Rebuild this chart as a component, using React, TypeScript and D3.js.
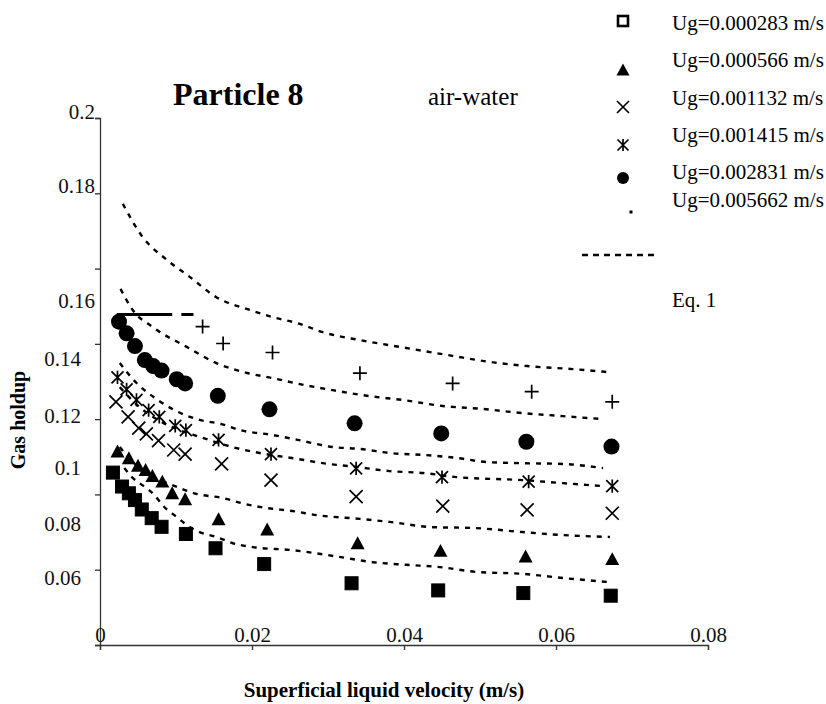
import { useEffect, useRef } from 'react';
import * as d3 from 'd3';

// axis ticks
const xTicks = [0, 0.02, 0.04, 0.06, 0.08];
const yTicks = [0.06, 0.08, 0.1, 0.12, 0.14, 0.16, 0.18, 0.2];

// legend labels
const ugLabels = [
  'Ug=0.000283 m/s',
  'Ug=0.000566 m/s',
  'Ug=0.001132 m/s',
  'Ug=0.001415 m/s',
  'Ug=0.002831 m/s',
  'Ug=0.005662 m/s',
];

// measured data (superficial liquid velocity, gas holdup)
const sqX = [0.0017, 0.0029, 0.0038, 0.0046, 0.0055, 0.0068, 0.0081, 0.0113, 0.0152, 0.0216, 0.0331, 0.0445, 0.0557, 0.0672];
const sqY = [0.1058, 0.1021, 0.1003, 0.0985, 0.096, 0.0937, 0.0914, 0.0895, 0.0857, 0.0815, 0.0764, 0.0745, 0.0738, 0.0731];

const triX = [0.0023, 0.0038, 0.005, 0.006, 0.0069, 0.0082, 0.0095, 0.0112, 0.0156, 0.022, 0.0339, 0.0448, 0.056, 0.0674];
const triY = [0.1114, 0.1096, 0.1076, 0.1065, 0.1049, 0.1034, 0.1003, 0.0987, 0.0934, 0.0907, 0.087, 0.085, 0.0835, 0.0828];

const crossX = [0.0021, 0.0037, 0.0051, 0.0061, 0.0077, 0.0097, 0.0112, 0.016, 0.0225, 0.0337, 0.0451, 0.0562, 0.0674];
const crossY = [0.1246, 0.1206, 0.1176, 0.1161, 0.1143, 0.1118, 0.1107, 0.1081, 0.1038, 0.0994, 0.0969, 0.0959, 0.095];

const starX = [0.0023, 0.0035, 0.0048, 0.0064, 0.0078, 0.0099, 0.0113, 0.0156, 0.0225, 0.0337, 0.045, 0.0564, 0.0674];
const starY = [0.1311, 0.1279, 0.1251, 0.1224, 0.1206, 0.1182, 0.1171, 0.1145, 0.1107, 0.1069, 0.1046, 0.1034, 0.1022];

const dotX = [0.0025, 0.0035, 0.0046, 0.0059, 0.007, 0.0081, 0.0101, 0.0112, 0.0155, 0.0223, 0.0335, 0.0449, 0.0561, 0.0673];
const dotY = [0.1459, 0.1428, 0.1394, 0.1357, 0.1341, 0.1329, 0.1306, 0.1295, 0.1262, 0.1226, 0.1189, 0.1162, 0.114, 0.1127];

const plusX = [0.0135, 0.0162, 0.0227, 0.0342, 0.0464, 0.0568, 0.0674];
const plusY = [0.1446, 0.1401, 0.1377, 0.1322, 0.1295, 0.1273, 0.1246];

// flat black bar near the top-left of the plot
const barY = 0.1478;
const barSegments = [[0.0022, 0.0095], [0.0107, 0.0123]];

// Eq. 1 curves
const eqAX = [0.003, 0.0056, 0.0088, 0.0118, 0.0153, 0.0197, 0.0227, 0.0263, 0.0293, 0.0342, 0.0394, 0.0464, 0.0513, 0.0562, 0.0622, 0.0668];
const eqAY = [0.1772, 0.1684, 0.1623, 0.1578, 0.1524, 0.149, 0.1471, 0.1453, 0.1431, 0.141, 0.1392, 0.1368, 0.1352, 0.1341, 0.1333, 0.1325];

const eqBX = [0.0027, 0.0043, 0.0069, 0.0114, 0.0153, 0.0193, 0.0227, 0.0263, 0.0306, 0.0355, 0.0398, 0.0451, 0.0504, 0.0556, 0.0609, 0.0662];
const eqBY = [0.1546, 0.149, 0.1445, 0.1392, 0.1349, 0.1323, 0.1309, 0.1293, 0.1277, 0.1261, 0.1251, 0.1235, 0.1227, 0.1216, 0.1208, 0.12];

const eqCX = [0.0026, 0.0048, 0.0076, 0.0098, 0.0131, 0.016, 0.0184, 0.0227, 0.026, 0.0306, 0.0342, 0.0381, 0.0425, 0.0469, 0.0509, 0.0556, 0.0609, 0.0662];
const eqCY = [0.1349, 0.1296, 0.1251, 0.1224, 0.1198, 0.1187, 0.1171, 0.1158, 0.1145, 0.1126, 0.1121, 0.111, 0.1105, 0.1097, 0.1086, 0.1083, 0.1081, 0.107];

const eqDX = [0.0026, 0.0052, 0.0072, 0.0098, 0.0131, 0.0174, 0.021, 0.0261, 0.0293, 0.0338, 0.0381, 0.0425, 0.0469, 0.0556, 0.0609, 0.0662];
const eqDY = [0.1285, 0.1232, 0.1203, 0.1176, 0.1153, 0.1126, 0.111, 0.1094, 0.1083, 0.1073, 0.1062, 0.1057, 0.1046, 0.1038, 0.103, 0.1022];

const eqEX = [0.0026, 0.0043, 0.0065, 0.0095, 0.0128, 0.016, 0.019, 0.0219, 0.0253, 0.0285, 0.0342, 0.0381, 0.0438, 0.049, 0.0556, 0.0609, 0.0671];
const eqEY = [0.1126, 0.1086, 0.1052, 0.1025, 0.1001, 0.0991, 0.0975, 0.0964, 0.0956, 0.0945, 0.0935, 0.0927, 0.0913, 0.0911, 0.09, 0.0892, 0.0887];

const eqFX = [0.0032, 0.0042, 0.0059, 0.0072, 0.0082, 0.0101, 0.0114, 0.0131, 0.0153, 0.0174, 0.0201, 0.0253, 0.0315, 0.0359, 0.0403, 0.0447, 0.0496, 0.0556, 0.0609, 0.0671];
const eqFY = [0.107, 0.1046, 0.102, 0.0998, 0.0972, 0.094, 0.0919, 0.09, 0.0887, 0.0871, 0.086, 0.0852, 0.0834, 0.082, 0.0813, 0.0807, 0.0794, 0.0789, 0.0778, 0.0767];

type Shape = 'square' | 'triangle' | 'x' | 'star' | 'circle' | 'plus' | 'dot';

const FONT = "'Liberation Serif', 'Times New Roman', serif";

// where the scanned y tick labels actually sit relative to their ticks
const yLabelNudge: Record<string, [number, number]> = {
  '0.2': [-5, -6],
  '0.18': [-5, -8],
  '0.16': [-5, 32],
  '0.14': [-19, 15],
  '0.12': [-19, -4],
  '0.1': [-19, -27],
  '0.08': [-19, -46],
  '0.06': [-19, -67],
};

const fmt = (d: number) => String(+d.toFixed(2));

function drawMarker(
  g: d3.Selection<SVGGElement, unknown, null, undefined>,
  shape: Shape,
  cx: number,
  cy: number,
  s: number,
  hollow = false
) {
  const h = s / 2;
  if (shape === 'square') {
    g.append('rect')
      .attr('x', cx - h).attr('y', cy - h).attr('width', s).attr('height', s)
      .attr('fill', hollow ? '#fff' : '#000')
      .attr('stroke', '#000').attr('stroke-width', hollow ? 2.6 : 1);
  } else if (shape === 'triangle') {
    g.append('path')
      .attr('d', `M${cx},${cy - h}L${cx + h},${cy + h * 0.85}L${cx - h},${cy + h * 0.85}Z`)
      .attr('fill', '#000');
  } else if (shape === 'circle') {
    g.append('circle').attr('cx', cx).attr('cy', cy).attr('r', h).attr('fill', '#000');
  } else if (shape === 'dot') {
    g.append('rect').attr('x', cx - h).attr('y', cy - h).attr('width', s).attr('height', s).attr('fill', '#000');
  } else {
    let d = '';
    if (shape === 'x' || shape === 'star') d += `M${cx - h},${cy - h}L${cx + h},${cy + h}M${cx - h},${cy + h}L${cx + h},${cy - h}`;
    if (shape === 'star') d += `M${cx},${cy - h * 1.1}V${cy + h * 1.1}`;
    if (shape === 'plus') d += `M${cx - h},${cy}H${cx + h}M${cx},${cy - h}V${cy + h}`;
    g.append('path').attr('d', d).attr('fill', 'none').attr('stroke', '#000').attr('stroke-width', 1.7);
  }
}

const App = () => {
  const ref = useRef<SVGSVGElement | null>(null);

  useEffect(() => {
    const svg = d3.select(ref.current);
    svg.selectAll('*').remove();

    const x = d3.scaleLinear().domain([0, 0.08]).range([100, 708]);
    const y = d3.scaleLinear().domain([0.06, 0.2]).range([645, 118]);

    // y axis
    const yAxis = svg.append('g')
      .attr('transform', 'translate(100,0)')
      .call(d3.axisLeft(y).tickValues(yTicks).tickSize(5).tickFormat(d => fmt(d as number)));
    yAxis.selectAll('path, line').attr('stroke', '#333').attr('stroke-width', 1.3);
    yAxis.selectAll<SVGTextElement, number>('text')
      .attr('font-family', FONT).attr('font-size', 21).attr('fill', '#111')
      .attr('x', d => yLabelNudge[fmt(d)][0])
      .attr('y', d => yLabelNudge[fmt(d)][1])
      .attr('dy', '0.33em');

    // x axis
    const xAxis = svg.append('g')
      .attr('transform', 'translate(0,645)')
      .call(d3.axisBottom(x).tickValues(xTicks).tickSize(5).tickFormat(d => fmt(d as number)));
    xAxis.selectAll('path, line').attr('stroke', '#333').attr('stroke-width', 1.3);
    xAxis.selectAll('text')
      .attr('font-family', FONT).attr('font-size', 21).attr('fill', '#111')
      .attr('y', -3.5).attr('dy', 0);

    // axis titles
    svg.append('text')
      .attr('x', 384).attr('y', 697)
      .attr('text-anchor', 'middle')
      .attr('font-family', FONT).attr('font-weight', 'bold').attr('font-size', 21)
      .text('Superficial liquid velocity (m/s)');
    svg.append('text')
      .attr('transform', 'translate(25,420) rotate(-90)')
      .attr('text-anchor', 'middle')
      .attr('font-family', FONT).attr('font-weight', 'bold').attr('font-size', 20)
      .text('Gas holdup');

    // title and annotation
    svg.append('text')
      .attr('x', 173).attr('y', 105)
      .attr('font-family', FONT).attr('font-weight', 'bold').attr('font-size', 32)
      .text('Particle 8');
    svg.append('text')
      .attr('x', 428).attr('y', 105)
      .attr('font-family', FONT).attr('font-size', 25)
      .text('air-water');

    // Eq. 1 dashed curves
    const line = d3.line<[number, number]>()
      .x(d => x(d[0]))
      .y(d => y(d[1]))
      .curve(d3.curveMonotoneX);
    const curves: [number[], number[]][] = [
      [eqAX, eqAY], [eqBX, eqBY], [eqCX, eqCY], [eqDX, eqDY], [eqEX, eqEY], [eqFX, eqFY],
    ];
    svg.append('g')
      .selectAll('path')
      .data(curves.map(([xs, ys]) => xs.map((v, i) => [v, ys[i]] as [number, number])))
      .enter().append('path')
      .attr('d', d => line(d))
      .attr('fill', 'none')
      .attr('stroke', '#000')
      .attr('stroke-width', 2.4)
      .attr('stroke-dasharray', '5,6');

    // flat bar
    svg.append('g')
      .selectAll('line')
      .data(barSegments)
      .enter().append('line')
      .attr('x1', d => x(d[0])).attr('x2', d => x(d[1]))
      .attr('y1', y(barY)).attr('y2', y(barY))
      .attr('stroke', '#000').attr('stroke-width', 3);

    // markers
    const series: { xs: number[]; ys: number[]; shape: Shape; size: number }[] = [
      { xs: sqX, ys: sqY, shape: 'square', size: 13 },
      { xs: triX, ys: triY, shape: 'triangle', size: 14 },
      { xs: crossX, ys: crossY, shape: 'x', size: 13 },
      { xs: starX, ys: starY, shape: 'star', size: 12 },
      { xs: dotX, ys: dotY, shape: 'circle', size: 16 },
      { xs: plusX, ys: plusY, shape: 'plus', size: 14 },
    ];
    const mg = svg.append('g');
    series.forEach(s => {
      s.xs.forEach((v, i) => drawMarker(mg, s.shape, x(v), y(s.ys[i]), s.size));
    });

    // legend
    const lg = svg.append('g');
    const legendShapes: Shape[] = ['square', 'triangle', 'x', 'star', 'circle', 'dot'];
    const markerY = [21, 70, 107, 145, 178, 212];
    const textY = [23, 60, 98, 135, 172, 200];
    const markerSize = [10, 13, 12, 11, 12, 3];
    legendShapes.forEach((sh, i) => {
      drawMarker(lg, sh, sh === 'dot' ? 631 : 623, markerY[i], markerSize[i], sh === 'square');
      lg.append('text')
        .attr('x', 672).attr('y', textY[i]).attr('dy', '0.35em')
        .attr('font-family', FONT).attr('font-size', 21)
        .text(ugLabels[i]);
    });
    lg.append('line')
      .attr('x1', 582).attr('x2', 659).attr('y1', 255).attr('y2', 255)
      .attr('stroke', '#000').attr('stroke-width', 2.4).attr('stroke-dasharray', '6,5');
    lg.append('text')
      .attr('x', 672).attr('y', 300).attr('dy', '0.35em')
      .attr('font-family', FONT).attr('font-size', 21)
      .text('Eq. 1');
  }, []);

  return (
    <svg
      ref={ref}
      width={826}
      height={704}
      style={{ position: 'absolute', left: 0, top: 0, background: '#fff' }}
    ></svg>
  );
};

export default App;
